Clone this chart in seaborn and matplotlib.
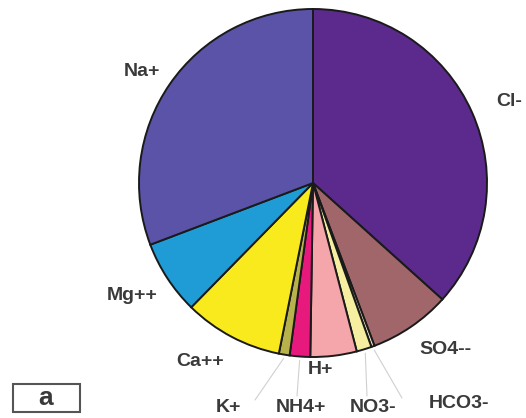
import numpy as np
import matplotlib.pyplot as plt
import seaborn as sns

sns.set_style("white")
plt.rcParams['font.family'] = ['Liberation Sans', 'DejaVu Sans']

# ion shares (%), clockwise from 12 o'clock
ions = ['Cl-', 'SO4--', 'HCO3-', 'NO3-', 'H+', 'NH4+', 'K+', 'Ca++', 'Mg++', 'Na+']
shares = [36.7, 7.6, 0.3, 1.4, 4.3, 1.9, 1.0, 9.2, 6.9, 30.8]
colors = ['#5b2a8c', '#a0666a', '#f2e6c0', '#f6eea0', '#f4a6aa', '#e8197c',
          '#b8b24a', '#f8ea1c', '#1f9bd6', '#5b53a8']

# label placement in pixel coords (x, y from top)
label_pos = [(509, 102), (445, 349), (459, 403), (373, 408), (320, 369),
             (301, 408), (228, 408), (200, 361), (132, 295), (142, 72)]
# end points of leader lines (None = no line)
leader_end = [None, None, (402, 398), (367, 396), None,
              (297, 396), (255, 400), None, None, None]

W, H = 526, 418
fig = plt.figure(figsize=(W / 100, H / 100), dpi=100)
ax = fig.add_axes([0, 0, 1, 1])

cx, cy, r = 313, H - 183, 174
wedges, _ = ax.pie(shares, colors=colors, startangle=90, counterclock=False,
                   center=(cx, cy), radius=r, frame=True,
                   wedgeprops=dict(edgecolor='#1a1a1a', linewidth=1.4))
ax.set_xlim(0, W)
ax.set_ylim(0, H)
ax.axis('off')

for w, name, (lx, ly), end in zip(wedges, ions, label_pos, leader_end):
    if end is not None:
        mid = np.deg2rad((w.theta1 + w.theta2) / 2)
        ex, ey = cx + (r + 4) * np.cos(mid), cy + (r + 4) * np.sin(mid)
        ax.plot([ex, end[0]], [ey, H - end[1]], color='#d0d0d0', linewidth=0.8)
    ax.text(lx, H - ly, name, ha='center', va='center', fontsize=14,
            fontweight='bold', color='#3a3a3a')

# panel tag
ax.add_patch(plt.Rectangle((13, H - 412), 67, 28, fill=False,
                           edgecolor='#555555', linewidth=1.5))
ax.text(46, H - 398, 'a', ha='center', va='center', fontsize=19,
        fontweight='bold', color='#3a3a3a')

fig.savefig('out.png', dpi=100, facecolor='white')
